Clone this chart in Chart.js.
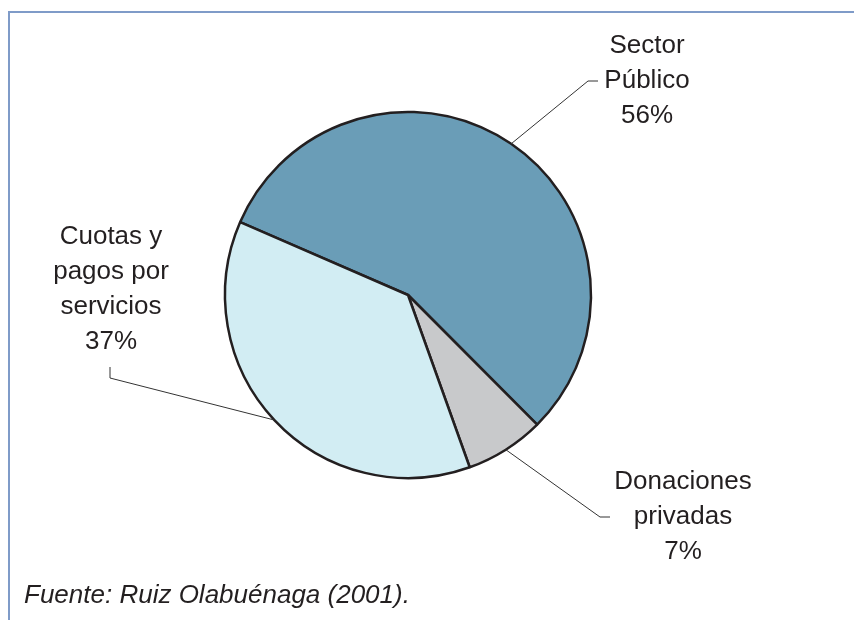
<!DOCTYPE html>
<html>
<head>
<meta charset="utf-8">
<script src="https://cdn.jsdelivr.net/npm/chart.js@4/dist/chart.umd.min.js"></script>
<style>
    body { margin: 0; background: #fff; }
    #marco {
        position: absolute; left: 8px; top: 11px; width: 860px; height: 620px;
        border-top: 2px solid #7f9bc8; border-left: 2px solid #7f9bc8;
    }
    #grafico { position: absolute; left: 0; top: 0; }
</style>
</head>
<body>
<div id="marco"></div>
<canvas id="grafico" width="854" height="620"></canvas>
<script>
    // Datos
    const categorias = ['Sector Público', 'Donaciones privadas', 'Cuotas y pagos por servicios']
    const porcentajes = [56, 7, 37]
    const etiquetas = [
        ['Sector', 'Público', '56%'],
        ['Donaciones', 'privadas', '7%'],
        ['Cuotas y', 'pagos por', 'servicios', '37%']
    ]
    const colores = ['#6a9db7', '#c8c9cb', '#d2edf3']
    const fuente = 'Fuente: Ruiz Olabuénaga (2001).'

    // Posición de cada texto y codo de la línea guía
    const posEtiquetas = [
        { x: 647, y: 46, codo: [588, 81], fin: [598, 81] },
        { x: 683, y: 482, codo: [600, 517], fin: [610, 517] },
        { x: 111, y: 237, codo: [110, 378], fin: [110, 367] }
    ]

    const colorTexto = '#231f20'

    // Plugin para dibujar etiquetas externas con líneas guía
    const etiquetasExternas = {
        id: 'etiquetasExternas',
        afterDatasetsDraw(chart) {
            const ctx = chart.ctx
            const arcos = chart.getDatasetMeta(0).data
            ctx.save()
            arcos.forEach((arco, i) => {
                const p = posEtiquetas[i]
                const medio = (arco.startAngle + arco.endAngle) / 2
                const x0 = arco.x + Math.cos(medio) * arco.outerRadius
                const y0 = arco.y + Math.sin(medio) * arco.outerRadius
                ctx.strokeStyle = '#333'
                ctx.lineWidth = 1
                ctx.beginPath()
                ctx.moveTo(x0, y0)
                ctx.lineTo(p.codo[0], p.codo[1])
                ctx.lineTo(p.fin[0], p.fin[1])
                ctx.stroke()

                ctx.fillStyle = colorTexto
                ctx.font = '26px "Liberation Sans", Arial, sans-serif'
                ctx.textAlign = 'center'
                ctx.textBaseline = 'middle'
                etiquetas[i].forEach((linea, j) => {
                    ctx.fillText(linea, p.x, p.y + j * 34.8)
                })
            })
            ctx.fillStyle = colorTexto
            ctx.font = 'italic 26px "Liberation Sans", Arial, sans-serif'
            ctx.textAlign = 'left'
            ctx.textBaseline = 'middle'
            ctx.fillText(fuente, 24, 596)
            ctx.restore()
        }
    }

    new Chart(document.getElementById('grafico'), {
        type: 'pie',
        data: {
            labels: categorias,
            datasets: [{
                data: porcentajes,
                backgroundColor: colores,
                borderColor: '#231f20',
                borderWidth: 2.5,
                borderAlign: 'center'
            }]
        },
        options: {
            responsive: false,
            animation: false,
            rotation: 293.5,
            radius: 183,
            layout: { padding: { left: 20, right: 58, top: 20, bottom: 50 } },
            plugins: {
                legend: { display: false },
                tooltip: { enabled: false }
            }
        },
        plugins: [etiquetasExternas]
    })
</script>
</body>
</html>
